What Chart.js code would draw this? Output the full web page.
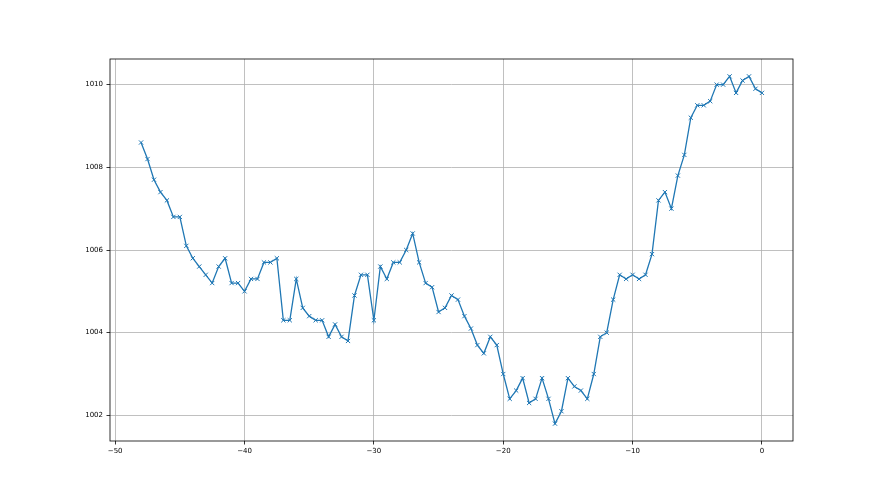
<!DOCTYPE html>
<html>
<head>
<meta charset="utf-8">
<script src="https://cdn.jsdelivr.net/npm/chart.js@4"></script>
<style>
  html, body { margin: 0; padding: 0; background: #fff; }
  #wrap { width: 880px; height: 495px; }
</style>
</head>
<body>
<div id="wrap"><canvas id="c" width="880" height="495"></canvas></div>
<script>
// hours before now, every half hour
let hours = []
for (let h = -48; h <= 0; h += 0.5) hours.push(h)

// pressure readings (hPa)
let pressure = [
  1008.6, 1008.2, 1007.7, 1007.4, 1007.2, 1006.8, 1006.8, 1006.1, 1005.8, 1005.6,
  1005.4, 1005.2, 1005.6, 1005.8, 1005.2, 1005.2, 1005.0, 1005.3, 1005.3, 1005.7,
  1005.7, 1005.8, 1004.3, 1004.3, 1005.3, 1004.6, 1004.4, 1004.3, 1004.3, 1003.9,
  1004.2, 1003.9, 1003.8, 1004.9, 1005.4, 1005.4, 1004.3, 1005.6, 1005.3, 1005.7,
  1005.7, 1006.0, 1006.4, 1005.7, 1005.2, 1005.1, 1004.5, 1004.6, 1004.9, 1004.8,
  1004.4, 1004.1, 1003.7, 1003.5, 1003.9, 1003.7, 1003.0, 1002.4, 1002.6, 1002.9,
  1002.3, 1002.4, 1002.9, 1002.4, 1001.8, 1002.1, 1002.9, 1002.7, 1002.6, 1002.4,
  1003.0, 1003.9, 1004.0, 1004.8, 1005.4, 1005.3, 1005.4, 1005.3, 1005.4, 1005.9,
  1007.2, 1007.4, 1007.0, 1007.8, 1008.3, 1009.2, 1009.5, 1009.5, 1009.6, 1010.0,
  1010.0, 1010.2, 1009.8, 1010.1, 1010.2, 1009.9, 1009.8
]

let xTicks = [-50, -40, -30, -20, -10, 0]
let yTicks = [1002, 1004, 1006, 1008, 1010]

let points = hours.map((h, i) => ({ x: h, y: pressure[i] }))

let frame = {
  id: 'frame',
  afterDraw(chart) {
    let a = chart.chartArea
    let ctx = chart.ctx
    ctx.save()
    ctx.strokeStyle = '#000'
    ctx.lineWidth = 0.8
    ctx.strokeRect(a.left, a.top, a.right - a.left, a.bottom - a.top)
    ctx.restore()
  }
}

let minus = v => String(v).replace('-', '\u2212')

new Chart(document.getElementById('c').getContext('2d'), {
  type: 'line',
  data: {
    datasets: [{
      data: points,
      borderColor: '#1f77b4',
      backgroundColor: '#1f77b4',
      borderWidth: 1.3,
      pointStyle: 'crossRot',
      pointRadius: 3,
      pointBorderWidth: 1,
      pointHoverRadius: 3,
      tension: 0
    }]
  },
  options: {
    responsive: false,
    animation: false,
    events: [],
    layout: { padding: { left: 0, right: 87, top: 59, bottom: 0 } },
    plugins: { legend: { display: false }, tooltip: { enabled: false } },
    scales: {
      x: {
        type: 'linear',
        min: -50.4,
        max: 2.4,
        afterBuildTicks: s => { s.ticks = xTicks.map(v => ({ value: v })) },
        afterFit: s => { s.height = 54 },
        border: { display: false },
        grid: { color: '#b0b0b0', lineWidth: 0.8, tickColor: '#000', tickLength: 3.5 },
        ticks: {
          color: '#000', padding: 2, maxRotation: 0,
          font: { family: 'DejaVu Sans', size: 7 },
          callback: v => minus(v)
        }
      },
      y: {
        min: 1001.38,
        max: 1010.62,
        afterBuildTicks: s => { s.ticks = yTicks.map(v => ({ value: v })) },
        afterFit: s => { s.width = 110 },
        border: { display: false },
        grid: { color: '#b0b0b0', lineWidth: 0.8, tickColor: '#000', tickLength: 3.5 },
        ticks: {
          color: '#000', padding: 3.5,
          font: { family: 'DejaVu Sans', size: 7 },
          callback: v => String(v)
        }
      }
    }
  },
  plugins: [frame]
})
</script>
</body>
</html>
